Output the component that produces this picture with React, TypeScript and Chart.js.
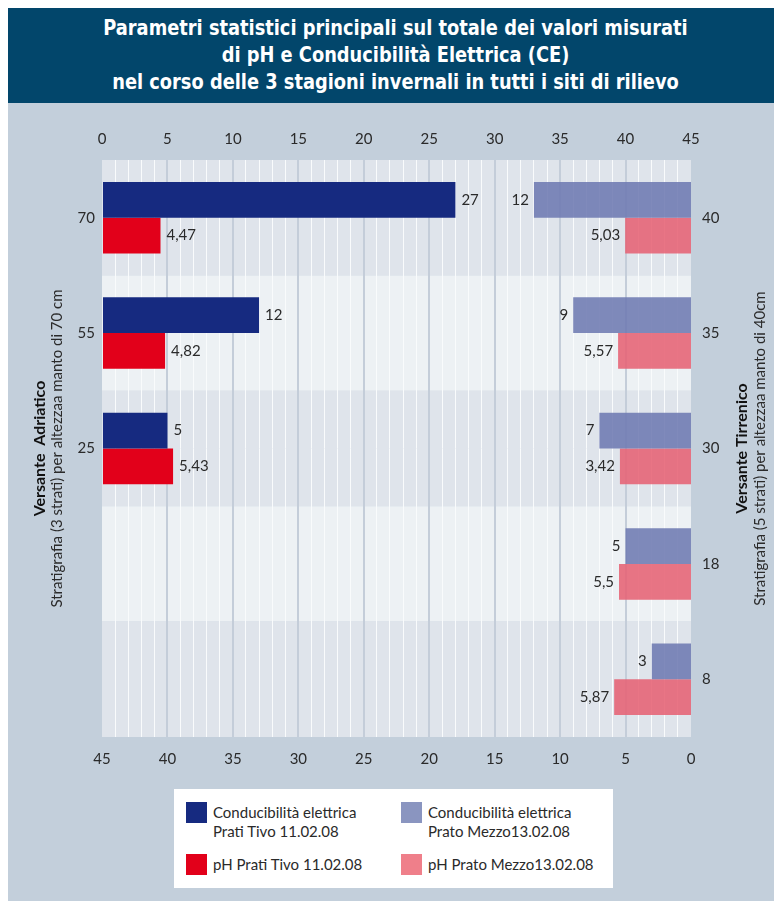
import React, { useEffect, useRef } from 'react';
import { Chart, registerables } from 'chart.js';

Chart.register(...registerables);

document.documentElement.style.overflow = 'hidden';

// ---------- data ----------
const titleLines = [
  'Parametri statistici principali sul totale dei valori misurati',
  'di pH e Conducibilità Elettrica (CE)',
  'nel corso delle 3 stagioni invernali in tutti i siti di rilievo',
];
const leftCategories = ['70', '55', '25', '', ''];
const rightCategories = ['40', '35', '30', '18', '8'];

const ceLeft = [27, 12, 5, null, null];
const phLeft = [4.47, 4.82, 5.43, null, null];
const ceRight = [12, 9, 7, 5, 3];
const phRight = [5.03, 5.57, 5.43, 5.5, 5.87];

const ceLeftLabels = ['27', '12', '5', '', ''];
const phLeftLabels = ['4,47', '4,82', '5,43', '', ''];
const ceRightLabels = ['12', '9', '7', '5', '3'];
const phRightLabels = ['5,03', '5,57', '3,42', '5,5', '5,87'];

const axisMin = 0;
const axisMax = 45;
const majorStep = 5;
const minorStep = 1;

const leftTitleBold = 'Versante  Adriatico';
const leftTitle = 'Stratigrafia (3 strati) per altezzaa manto di 70 cm';
const rightTitleBold = 'Versante Tirrenico';
const rightTitle = 'Stratigrafia (5 strati) per altezzaa manto di 40cm';

const legendNames = [
  ['Conducibilità elettrica', 'Prati Tivo 11.02.08'],
  ['Conducibilità elettrica', 'Prato Mezzo13.02.08'],
  ['pH Prati Tivo 11.02.08'],
  ['pH Prato Mezzo13.02.08'],
];
const legendColors = ['#162a80', '#8a95c0', '#e2001a', '#ef7f8a'];

// ---------- style ----------
const FONT = 'Lato, "Open Sans", sans-serif';
const TEXT = '#2a2a2a';

export default function App() {
  const canvasRef = useRef<HTMLCanvasElement | null>(null);

  useEffect(() => {
    const canvas = canvasRef.current;
    if (!canvas) return;

    const bandsPlugin = {
      id: 'bands',
      beforeDraw(chart: any) {
        const { ctx, chartArea } = chart;
        const ys = chart.scales.y;
        const n = leftCategories.length;
        const step = ys.getPixelForValue(1) - ys.getPixelForValue(0);
        ctx.save();
        for (let i = 0; i < n; i++) {
          const c = ys.getPixelForValue(i);
          ctx.fillStyle = i % 2 === 0 ? '#dfe4eb' : '#edf1f4';
          ctx.fillRect(chartArea.left, c - step / 2, chartArea.right - chartArea.left, step);
        }
        ctx.restore();
      },
    };

    const labelsPlugin = {
      id: 'valueLabels',
      afterDatasetsDraw(chart: any) {
        const { ctx } = chart;
        ctx.save();
        ctx.font = `15px ${FONT}`;
        ctx.fillStyle = TEXT;
        ctx.textBaseline = 'middle';
        chart.data.datasets.forEach((ds: any, di: number) => {
          const meta = chart.getDatasetMeta(di);
          meta.data.forEach((el: any, i: number) => {
            const txt = ds.valueLabels[i];
            if (!txt || ds.data[i] == null) return;
            if (ds.side === 'left') {
              ctx.textAlign = 'left';
              ctx.fillText(txt, el.x + 6, el.y);
            } else {
              ctx.textAlign = 'right';
              ctx.fillText(txt, el.x - 5, el.y);
            }
          });
        });
        ctx.restore();
      },
    };

    const sideTitlesPlugin = {
      id: 'sideTitles',
      afterDraw(chart: any) {
        const { ctx, chartArea } = chart;
        const cy = (chartArea.top + chartArea.bottom) / 2;
        const draw = (text: string, x: number, bold: boolean) => {
          ctx.save();
          ctx.translate(x, cy);
          ctx.rotate(-Math.PI / 2);
          ctx.font = `${bold ? 'bold 16px' : '15px'} ${FONT}`;
          ctx.fillStyle = bold ? '#111' : TEXT;
          ctx.textAlign = 'center';
          ctx.textBaseline = 'middle';
          ctx.fillText(text, 0, 0);
          ctx.restore();
        };
        draw(leftTitleBold, 32, true);
        draw(leftTitle, 49, false);
        draw(rightTitleBold, 734, true);
        draw(rightTitle, 752, false);
      },
    };

    const chart = new Chart(canvas, {
      type: 'bar',
      data: {
        labels: leftCategories,
        datasets: [
          {
            label: legendNames[0].join(' '),
            data: ceLeft,
            xAxisID: 'x',
            stack: 'ce',
            backgroundColor: '#162a80',
            side: 'left',
            valueLabels: ceLeftLabels,
          } as any,
          {
            label: legendNames[2].join(' '),
            data: phLeft,
            xAxisID: 'x',
            stack: 'ph',
            backgroundColor: '#e2001a',
            side: 'left',
            valueLabels: phLeftLabels,
          } as any,
          {
            label: legendNames[1].join(' '),
            data: ceRight,
            xAxisID: 'x2',
            stack: 'ce',
            backgroundColor: 'rgba(110,122,178,0.88)',
            side: 'right',
            valueLabels: ceRightLabels,
          } as any,
          {
            label: legendNames[3].join(' '),
            data: phRight,
            xAxisID: 'x2',
            stack: 'ph',
            backgroundColor: 'rgba(230,98,116,0.88)',
            side: 'right',
            valueLabels: phRightLabels,
          } as any,
        ],
      },
      options: {
        indexAxis: 'y',
        animation: false,
        responsive: false,
        maintainAspectRatio: false,
        layout: { padding: 0 },
        datasets: {
          bar: {
            barPercentage: 1,
            categoryPercentage: 0.62,
            borderWidth: 0,
          },
        },
        plugins: {
          legend: { display: false },
          tooltip: { enabled: false },
          title: { display: false },
        },
        scales: {
          x: {
            position: 'top',
            min: axisMin,
            max: axisMax,
            stacked: false,
            border: { display: false },
            grid: {
              drawTicks: false,
              color: (ctx: any) => {
                const v = ctx.tick ? ctx.tick.value : 0;
                if (v === axisMin || v === axisMax) return 'rgba(0,0,0,0)';
                return v % majorStep === 0 ? '#c4cdd9' : '#f9fbfc';
              },
              lineWidth: (ctx: any) => {
                const v = ctx.tick ? ctx.tick.value : 0;
                return v % majorStep === 0 ? 2 : 1;
              },
            },
            ticks: {
              stepSize: minorStep,
              autoSkip: false,
              maxRotation: 0,
              padding: 12,
              color: TEXT,
              font: { family: FONT, size: 15 },
              callback: (v: any) => (Number(v) % majorStep === 0 ? String(v) : ''),
            },
            afterFit: (s: any) => {
              s.height = 57;
            },
          },
          x2: {
            type: 'linear',
            position: 'bottom',
            reverse: true,
            min: axisMin,
            max: axisMax,
            stacked: false,
            border: { display: false },
            grid: { display: false, drawTicks: false },
            ticks: {
              stepSize: majorStep,
              maxRotation: 0,
              padding: 13,
              color: TEXT,
              font: { family: FONT, size: 15 },
            },
            afterFit: (s: any) => {
              s.height = 46;
            },
          },
          y: {
            type: 'category',
            position: 'left',
            offset: true,
            border: { display: false },
            grid: { display: false, drawTicks: false },
            ticks: {
              padding: 7,
              color: TEXT,
              font: { family: FONT, size: 15 },
            },
            afterFit: (s: any) => {
              s.width = 94;
            },
          },
          y2: {
            type: 'category',
            position: 'right',
            labels: rightCategories,
            offset: true,
            border: { display: false },
            grid: { display: false, drawTicks: false },
            ticks: {
              padding: 11,
              color: TEXT,
              font: { family: FONT, size: 15 },
            },
            afterFit: (s: any) => {
              s.width = 91;
            },
          },
        },
      } as any,
      plugins: [bandsPlugin, labelsPlugin, sideTitlesPlugin],
    });

    return () => chart.destroy();
  }, []);

  const swatchPos = [
    { left: 12, top: 13 },
    { left: 227, top: 13 },
    { left: 12, top: 65 },
    { left: 227, top: 65 },
  ];

  return (
    <div style={{ width: 774, fontFamily: FONT }}>
      <div
        style={{
          background: '#02466b',
          height: 95,
          overflow: 'hidden',
        }}
      >
        <div
          style={{
            color: '#ffffff',
            textAlign: 'center',
            fontFamily: '"Liberation Sans Narrow", "DejaVu Sans Condensed", "Open Sans", sans-serif',
            fontWeight: 'bold',
            fontSize: 22,
            lineHeight: '27px',
            paddingTop: 6,
            transform: 'scaleX(0.9)',
            transformOrigin: '392px 0',
          }}
        >
          {titleLines.map((t, i) => (
            <div key={i}>{t}</div>
          ))}
        </div>
      </div>
      <div style={{ position: 'relative', background: '#c3cfdb', height: 798 }}>
        <canvas
          ref={canvasRef}
          width={774}
          height={680}
          style={{ position: 'absolute', left: 0, top: 0, width: 774, height: 680 }}
        />
        <div
          style={{
            position: 'absolute',
            left: 166,
            top: 686,
            width: 439,
            height: 99,
            background: '#ffffff',
          }}
        >
          {legendNames.map((lines, i) => (
            <React.Fragment key={i}>
              <div
                style={{
                  position: 'absolute',
                  left: swatchPos[i].left,
                  top: swatchPos[i].top,
                  width: 21,
                  height: 21,
                  background: legendColors[i],
                }}
              />
              <div
                style={{
                  position: 'absolute',
                  left: swatchPos[i].left + 27,
                  top: swatchPos[i].top + 1,
                  fontSize: 15,
                  lineHeight: '19px',
                  color: TEXT,
                  whiteSpace: 'nowrap',
                }}
              >
                {lines.map((l, j) => (
                  <div key={j}>{l}</div>
                ))}
              </div>
            </React.Fragment>
          ))}
        </div>
      </div>
    </div>
  );
}
